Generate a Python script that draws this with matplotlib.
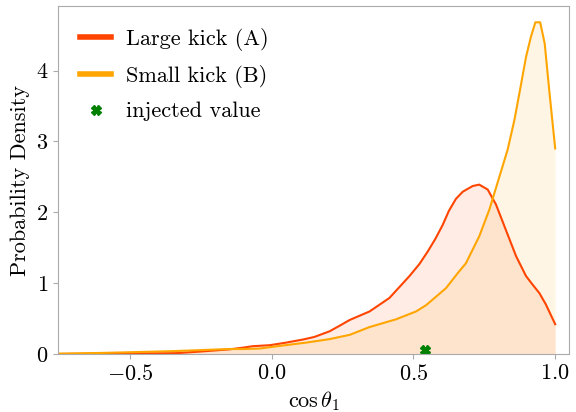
import matplotlib
matplotlib.use("Agg")
import matplotlib.pyplot as plt
from matplotlib.lines import Line2D

plt.rcParams['font.family'] = ['cmr10', 'DejaVu Serif']
plt.rcParams['mathtext.fontset'] = 'cm'
plt.rcParams['axes.formatter.use_mathtext'] = True
plt.rcParams['axes.unicode_minus'] = True

# Large kick (A)
xa = [-0.754, -0.6, -0.5, -0.4, -0.335, -0.25, -0.15, -0.1, -0.067, -0.007, 0.05, 0.11, 0.15, 0.204, 0.24,
      0.275, 0.345, 0.415, 0.486, 0.521, 0.551, 0.578, 0.603, 0.625, 0.650, 0.674, 0.709, 0.732, 0.762, 0.791,
      0.826, 0.862, 0.897, 0.92, 0.944, 0.967, 1.0]
ya = [0.0, 0.005, 0.01, 0.01, 0.012, 0.035, 0.065, 0.09, 0.11, 0.124, 0.16, 0.204, 0.24, 0.32, 0.40,
      0.48, 0.60, 0.79, 1.10, 1.27, 1.45, 1.63, 1.82, 2.02, 2.19, 2.29, 2.37, 2.39, 2.32, 2.11,
      1.75, 1.38, 1.10, 0.98, 0.86, 0.70, 0.42]

# Small kick (B)
xb = [-0.754, -0.6, -0.5, -0.35, -0.25, -0.15, -0.1, -0.042, 0.04, 0.12, 0.204, 0.275, 0.345, 0.439,
      0.509, 0.545, 0.580, 0.615, 0.656, 0.685, 0.732, 0.768, 0.803, 0.832, 0.856, 0.877, 0.897, 0.914,
      0.93, 0.947, 0.963, 0.979, 1.0]
yb = [0.005, 0.015, 0.025, 0.04, 0.055, 0.07, 0.07, 0.077, 0.12, 0.16, 0.21, 0.27, 0.38, 0.49,
      0.60, 0.69, 0.81, 0.93, 1.14, 1.28, 1.66, 2.04, 2.50, 2.88, 3.30, 3.75, 4.19, 4.47,
      4.68, 4.68, 4.38, 3.72, 2.9]

injected_x = [0.54]
injected_y = [0.05]

labels = ["Large kick (A)", "Small kick (B)", "injected value"]

fig = plt.figure(figsize=(5.76, 4.12), dpi=100)
ax = fig.add_axes([0.1007, 0.1408, 0.8873, 0.8446])

ca = '#ff4500'
cb = '#ffa500'
ax.fill_between(xa, ya, color=ca, alpha=0.1, lw=0)
ax.plot(xa, ya, color=ca, lw=1.5)
ax.fill_between(xb, yb, color=cb, alpha=0.1, lw=0)
ax.plot(xb, yb, color=cb, lw=1.5)
ax.plot(injected_x, injected_y, 'X', color='green', ms=7, ls='none')

handles = [Line2D([], [], color=ca, lw=4),
           Line2D([], [], color=cb, lw=4),
           Line2D([], [], color='green', marker='X', ls='none', ms=7)]
ax.legend(handles, labels, loc='upper left', frameon=False, fontsize=16,
          handlelength=1.4, handletextpad=0.65, borderaxespad=0.6, labelspacing=0.62)

ax.set_xlim(-0.754, 1.049)
ax.set_ylim(0, 4.91)
ax.set_xticks([-0.5, 0.0, 0.5, 1.0])
ax.set_yticks([0, 1, 2, 3, 4])
ax.tick_params(labelsize=16, color='#aaaaaa', length=3.5)
for s in ax.spines.values():
    s.set_color('#aaaaaa')
ax.set_xlabel(r'$\cos\theta_1$', fontsize=16, labelpad=4)
ax.set_ylabel('Probability Density', fontsize=16)

fig.savefig('out.png', dpi=100)
